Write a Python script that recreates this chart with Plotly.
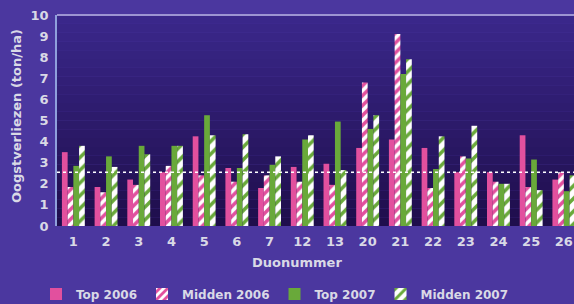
import plotly.graph_objects as go

categories = ["1", "2", "3", "4", "5", "6", "7", "12", "13", "20", "21", "22", "23", "24", "25", "26"]
top_2006 = [3.5, 1.85, 2.2, 2.55, 4.25, 2.75, 1.8, 2.8, 2.95, 3.7, 4.1, 3.7, 2.55, 2.55, 4.3, 2.2]
midden_2006 = [1.85, 1.6, 1.95, 2.85, 2.4, 2.1, 2.4, 2.1, 1.95, 6.8, 9.1, 1.8, 3.3, 2.1, 1.85, 2.55]
top_2007 = [2.85, 3.3, 3.8, 3.8, 5.25, 2.75, 2.9, 4.1, 4.95, 4.6, 7.2, 2.7, 3.2, 2.0, 3.15, 1.65]
midden_2007 = [3.8, 2.8, 3.4, 3.8, 4.3, 4.35, 3.3, 4.3, 2.65, 5.25, 7.9, 4.25, 4.75, 2.0, 1.7, 2.4]
reference_level = 2.55
y_ticks = [0, 1, 2, 3, 4, 5, 6, 7, 8, 9, 10]

PINK = "#e2509e"
GREEN = "#69a93a"
TXT = "#d9d9e6"
FONT = "DejaVu Sans"

fig = go.Figure()
fig.add_bar(name="Top 2006", x=categories, y=top_2006,
            marker=dict(color=PINK, line=dict(width=0)))
fig.add_bar(name="Midden 2006", x=categories, y=midden_2006,
            marker=dict(color=PINK, line=dict(width=0),
                        pattern=dict(shape="/", fgcolor=PINK, bgcolor="white",
                                     size=7, solidity=0.5, fillmode="replace")))
fig.add_bar(name="Top 2007", x=categories, y=top_2007,
            marker=dict(color=GREEN, line=dict(width=0)))
fig.add_bar(name="Midden 2007", x=categories, y=midden_2007,
            marker=dict(color=GREEN, line=dict(width=0),
                        pattern=dict(shape="/", fgcolor=GREEN, bgcolor="white",
                                     size=9, solidity=0.4, fillmode="replace")))

# gradient plot background (decor)
shapes = []
n = 24
top_rgb = (0x3a, 0x27, 0x8a)
bot_rgb = (0x1f, 0x0e, 0x4c)
for i in range(n):
    t = i / (n - 1)
    c = tuple(int(round(top_rgb[k] * (1 - t) + bot_rgb[k] * t)) for k in range(3))
    shapes.append(dict(type="rect", xref="x domain", yref="y domain",
                       x0=0, x1=1, y0=1 - (i + 1) / n, y1=1 - i / n,
                       fillcolor="rgb(%d,%d,%d)" % c, line=dict(width=0), layer="below"))
# top border of plot
shapes.append(dict(type="line", xref="x domain", yref="y domain", x0=0, x1=1, y0=1, y1=1,
                   line=dict(color="#9d94d2", width=2)))
# reference dotted line
shapes.append(dict(type="line", xref="x domain", yref="y", x0=0, x1=1,
                   y0=reference_level, y1=reference_level,
                   line=dict(color="white", width=1.5, dash="dot")))

fig.update_layout(
    width=574, height=304,
    margin=dict(l=57, r=0, t=15, b=78, autoexpand=False),
    paper_bgcolor="#4b379f",
    plot_bgcolor="rgba(0,0,0,0)",
    barmode="group", bargap=0.3, bargroupgap=0,
    font=dict(family=FONT, size=13, color=TXT),
    shapes=shapes,
    showlegend=True,
    legend=dict(orientation="h", xref="container", yref="container",
                x=36 / 574, y=0.033, xanchor="left", yanchor="middle",
                bgcolor="rgba(0,0,0,0)",
                font=dict(family=FONT, size=12, color=TXT, weight="bold")),
    xaxis=dict(type="category", range=[-0.5, 15.31], showgrid=False, zeroline=False,
               showline=False, ticks="", automargin=False,
               tickfont=dict(family=FONT, size=13, color=TXT, weight="bold"),
               ticklabelstandoff=6),
    yaxis=dict(range=[0, 10], tickvals=y_ticks, showgrid=False, zeroline=False,
               showline=True, linecolor="#8fa0dc", linewidth=1.5, automargin=False,
               ticks="", ticklabelstandoff=4,
               tickfont=dict(family=FONT, size=13, color=TXT, weight="bold")),
    annotations=[
        dict(text="Duonummer", xref="paper", yref="paper", x=0.465, y=-0.175,
             xanchor="center", yanchor="middle", showarrow=False,
             font=dict(family=FONT, size=13, color=TXT, weight="bold")),
        dict(text="Oogstverliezen (ton/ha)", xref="paper", yref="paper", x=-0.078, y=0.52,
             xanchor="center", yanchor="middle", textangle=-90, showarrow=False,
             font=dict(family=FONT, size=13, color=TXT, weight="bold")),
    ],
)

fig.write_html("out.html", config={"displayModeBar": False},
               post_script="document.body.style.margin='0';document.body.style.overflow='hidden';")
